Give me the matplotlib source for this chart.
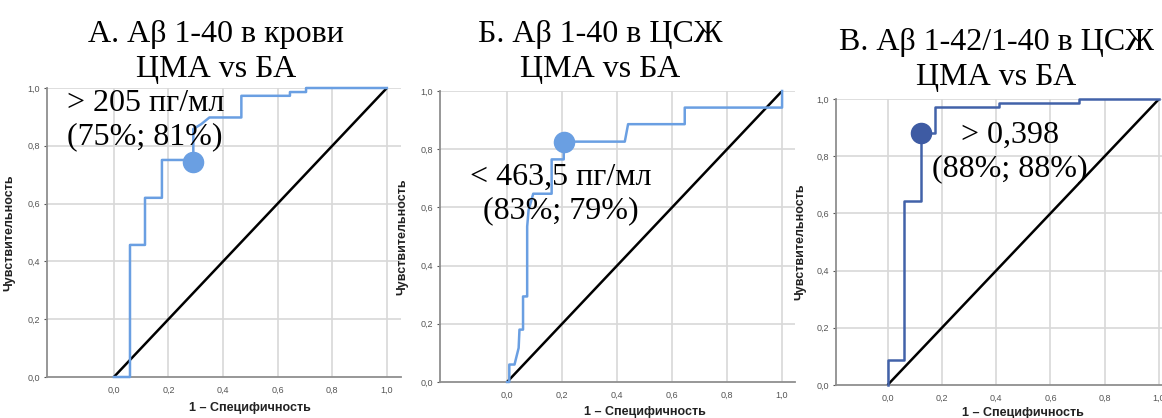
import matplotlib
matplotlib.use("Agg")
import matplotlib.pyplot as plt
from matplotlib.ticker import FuncFormatter

# ---- data ----
fpr_a = [0, 0.059, 0.059, 0.114, 0.114, 0.176, 0.176, 0.291, 0.291, 0.32, 0.35, 0.467, 0.467, 0.645, 0.645, 0.704, 0.704, 1.0]
tpr_a = [0, 0, 0.457, 0.457, 0.62, 0.62, 0.751, 0.751, 0.858, 0.875, 0.898, 0.898, 0.973, 0.973, 0.986, 0.986, 1.0, 1.0]
cut_a = (0.291, 0.745)

fpr_b = [0, 0.008, 0.008, 0.027, 0.042, 0.045, 0.058, 0.058, 0.07, 0.073, 0.073, 0.078, 0.095, 0.162, 0.162, 0.206, 0.206, 0.428, 0.44, 0.646, 0.646, 1.0, 1.0]
tpr_b = [0, 0, 0.06, 0.06, 0.117, 0.18, 0.18, 0.294, 0.294, 0.294, 0.534, 0.59, 0.647, 0.647, 0.765, 0.765, 0.826, 0.826, 0.886, 0.886, 0.943, 0.943, 1.0]
cut_b = (0.206, 0.826)

fpr_c = [0, 0, 0.0615, 0.0615, 0.124, 0.124, 0.175, 0.175, 0.412, 0.412, 0.707, 0.707, 1.0]
tpr_c = [0, 0.0875, 0.0875, 0.645, 0.645, 0.881, 0.881, 0.972, 0.972, 0.986, 0.986, 1.0, 1.0]
cut_c = (0.124, 0.881)

titles = [("А. Аβ 1-40 в крови", "ЦМА vs БА"),
          ("Б. Аβ 1-40 в ЦСЖ", "ЦМА vs БА"),
          ("В. Аβ 1-42/1-40 в ЦСЖ", "ЦМА vs БА")]
notes = [("> 205 пг/мл", "(75%; 81%)"),
         ("< 463,5 пг/мл", "(83%; 79%)"),
         ("> 0,398", "(88%; 88%)")]
ticks = [0.0, 0.2, 0.4, 0.6, 0.8, 1.0]
xlabel = "1 – Специфичность"
ylabel = "Чувствительность"

light_blue = "#6a9fe2"
dark_blue = "#4262a9"
grid_c = "#d8d8d8"
spine_c = "#8f8f8f"

W, H = 1162, 418
fig = plt.figure(figsize=(W / 100, H / 100), dpi=100)

# axes boxes in pixels: left, top, right, bottom ; xlim
boxes = [
    (47, 88, 400.5, 377, (-0.245, 1.05)),
    (440, 91, 795, 382, (-0.244, 1.047)),
    (836, 99, 1162, 385, (-0.19, 1.011)),
]

panels = [
    (fpr_a, tpr_a, cut_a, light_blue, light_blue),
    (fpr_b, tpr_b, cut_b, light_blue, light_blue),
    (fpr_c, tpr_c, cut_c, dark_blue, "#3e5ba3"),
]

note_pos = [
    (-0.170, 0.889, "left"),
    (0.196, 0.646, "center"),
    (0.45, 0.815, "center"),
]
xlabel_y = [-0.085, -0.084, -0.078]
title_x = [216, 600, 996]
title_base = [(42, 77), (42, 77), (50, 85)]
FS = 23

fmt = FuncFormatter(lambda v, p: f"{v:.1f}".replace(".", ","))

for i, ((l, t, r, b, xl), (fx, ty, cut, lc, mc)) in enumerate(zip(boxes, panels)):
    ax = fig.add_axes([l / W, 1 - b / H, (r - l) / W, (b - t) / H])
    ax.set_xlim(*xl)
    ax.set_ylim(0, 1)
    # grid
    for v in ticks:
        ax.axvline(v, color=grid_c, lw=1.2, zorder=0)
        if v > 0:
            ax.axhline(v, color=grid_c, lw=1.2, zorder=0)
    ax.plot([0, 1], [0, 1], color="black", lw=1.8, zorder=3, solid_capstyle="butt")
    ax.plot(fx, ty, color=lc, lw=1.8, zorder=4, clip_on=False)
    ax.plot([cut[0]], [cut[1]], "o", ms=14.5, color=mc, zorder=5, clip_on=False)

    ax.set_xticks(ticks)
    ax.set_yticks(ticks)
    ax.xaxis.set_major_formatter(fmt)
    ax.yaxis.set_major_formatter(fmt)
    ax.tick_params(axis="both", labelsize=6.5, colors="#555555", length=2, width=0.8, pad=3)
    ax.tick_params(axis="x", length=0, pad=6)
    for s in ["top", "right"]:
        ax.spines[s].set_visible(False)
    for s in ["left", "bottom"]:
        ax.spines[s].set_color(spine_c)
        ax.spines[s].set_linewidth(1.3)
    ax.set_xlabel(xlabel, fontsize=9, fontweight="bold", family="Liberation Sans", color="#222222")
    ax.set_ylabel(ylabel, fontsize=9, fontweight="bold", family="Liberation Sans", color="#222222")
    frac = (0.5 - xl[0]) / (xl[1] - xl[0])
    ax.xaxis.set_label_coords(frac, xlabel_y[i])
    ax.yaxis.set_label_coords(-0.09, 0.5)
    for lab in ax.get_xticklabels() + ax.get_yticklabels():
        lab.set_family("Liberation Sans")

    nx, ny, ha = note_pos[i]
    ax.text(nx, ny, notes[i][0] + "\n" + notes[i][1], ha=ha, va="center",
            family="Liberation Serif", fontsize=FS, zorder=6, linespacing=1.2)

    tx = title_x[i] / W
    fig.text(tx, 1 - title_base[i][0] / H, titles[i][0], ha="center", va="baseline",
             family="Liberation Serif", fontsize=FS)
    fig.text(tx, 1 - title_base[i][1] / H, titles[i][1], ha="center", va="baseline",
             family="Liberation Serif", fontsize=FS)

fig.savefig("out.png", dpi=100, facecolor="white")
